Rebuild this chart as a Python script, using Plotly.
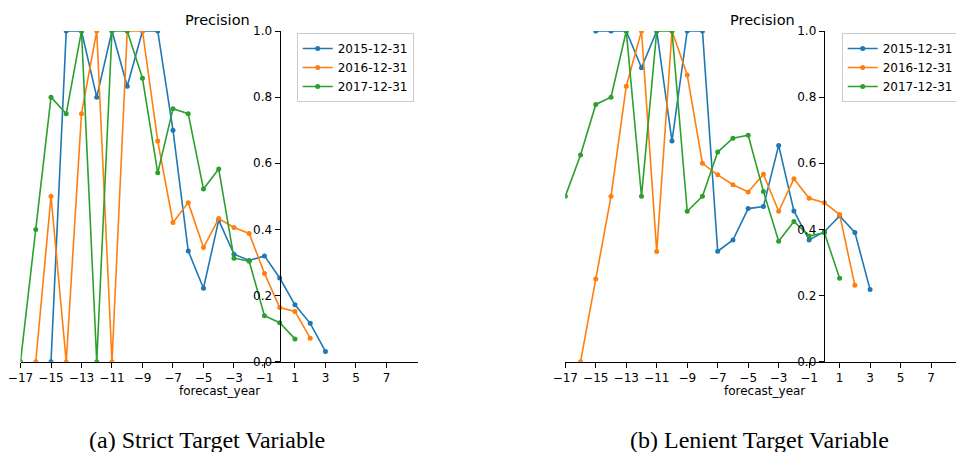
import plotly.graph_objects as go

# ---------------- data ----------------
series_names = ["2015-12-31", "2016-12-31", "2017-12-31"]
series_colors = ["#1f77b4", "#ff7f0e", "#2ca02c"]

# (a) Strict target variable
strict_x_2015 = [-15, -14, -13, -12, -11, -10, -9, -8, -7, -6, -5, -4, -3, -2, -1, 0, 1, 2, 3]
strict_y_2015 = [0.0, 1.0, 1.0, 0.80, 1.0, 0.833, 1.0, 1.0, 0.70, 0.335, 0.222, 0.428, 0.325, 0.306, 0.32, 0.253, 0.172, 0.116, 0.031]

strict_x_2016 = [-16, -15, -14, -13, -12, -11, -10, -9, -8, -7, -6, -5, -4, -3, -2, -1, 0, 1, 2]
strict_y_2016 = [0.0, 0.50, 0.0, 0.75, 1.0, 0.0, 1.0, 1.0, 0.667, 0.421, 0.481, 0.345, 0.433, 0.406, 0.388, 0.267, 0.164, 0.152, 0.071]

strict_x_2017 = [-17, -16, -15, -14, -13, -12, -11, -10, -9, -8, -7, -6, -5, -4, -3, -2, -1, 0, 1]
strict_y_2017 = [0.0, 0.40, 0.80, 0.75, 1.0, 0.0, 1.0, 1.0, 0.857, 0.571, 0.765, 0.75, 0.522, 0.583, 0.313, 0.304, 0.139, 0.118, 0.069]

# (b) Lenient target variable
lenient_x_2015 = [-15, -14, -13, -12, -11, -10, -9, -8, -7, -6, -5, -4, -3, -2, -1, 0, 1, 2, 3]
lenient_y_2015 = [1.0, 1.0, 1.0, 0.889, 1.0, 0.667, 1.0, 1.0, 0.334, 0.368, 0.463, 0.469, 0.654, 0.456, 0.368, 0.393, 0.441, 0.391, 0.218]

lenient_x_2016 = [-16, -15, -14, -13, -12, -11, -10, -9, -8, -7, -6, -5, -4, -3, -2, -1, 0, 1, 2]
lenient_y_2016 = [0.0, 0.25, 0.50, 0.833, 1.0, 0.333, 1.0, 0.867, 0.60, 0.565, 0.535, 0.513, 0.567, 0.455, 0.553, 0.494, 0.481, 0.445, 0.231]

lenient_x_2017 = [-17, -16, -15, -14, -13, -12, -11, -10, -9, -8, -7, -6, -5, -4, -3, -2, -1, 0, 1]
lenient_y_2017 = [0.50, 0.625, 0.778, 0.80, 1.0, 0.50, 1.0, 1.0, 0.455, 0.50, 0.634, 0.676, 0.685, 0.515, 0.364, 0.424, 0.38, 0.39, 0.252]

x_tick_vals = [-17, -15, -13, -11, -9, -7, -5, -3, -1, 1, 3, 5, 7]
x_tick_text = ["\u221217", "\u221215", "\u221213", "\u221211", "\u22129", "\u22127", "\u22125",
               "\u22123", "\u22121", "1", "3", "5", "7"]
y_tick_vals = [0.0, 0.2, 0.4, 0.6, 0.8, 1.0]
y_tick_text = ["0.0", "0.2", "0.4", "0.6", "0.8", "1.0"]

panel_title = "Precision"
x_label = "forecast_year"
captions = ["(a) Strict Target Variable", "(b) Lenient Target Variable"]

# ---------------- figure ----------------
W, H = 956, 452
FONT = "DejaVu Sans"

fig = go.Figure()

left_sets = [(strict_x_2015, strict_y_2015), (strict_x_2016, strict_y_2016), (strict_x_2017, strict_y_2017)]
right_sets = [(lenient_x_2015, lenient_y_2015), (lenient_x_2016, lenient_y_2016), (lenient_x_2017, lenient_y_2017)]

for (xs, ys), name, col in zip(left_sets, series_names, series_colors):
    fig.add_trace(go.Scatter(x=xs, y=ys, name=name, mode="lines+markers",
                             line=dict(color=col, width=1.6),
                             marker=dict(color=col, size=5),
                             xaxis="x", yaxis="y", legend="legend"))
for (xs, ys), name, col in zip(right_sets, series_names, series_colors):
    fig.add_trace(go.Scatter(x=xs, y=ys, name=name, mode="lines+markers",
                             line=dict(color=col, width=1.6),
                             marker=dict(color=col, size=5),
                             xaxis="x2", yaxis="y2", legend="legend2"))

def px_x(v):
    return v / W

def px_y(v):
    return (H - v) / H

y_dom = [px_y(361.7), px_y(31.0)]
left_dom = [px_x(20.5), px_x(417.7)]
right_dom = [px_x(565.3), 1.0]

axis_common = dict(showline=True, linecolor="black", linewidth=1, ticks="outside",
                   ticklen=5, tickwidth=1, tickcolor="black", showgrid=False,
                   zeroline=False, automargin=False,
                   tickfont=dict(family=FONT, size=12, color="black"))

fig.update_layout(
    width=W, height=H,
    margin=dict(l=0, r=0, t=0, b=0, autoexpand=False),
    paper_bgcolor="white", plot_bgcolor="white",
    font=dict(family=FONT, size=12, color="black"),
    xaxis=dict(domain=left_dom, range=[-17, 9.05], anchor="y",
               tickmode="array", tickvals=x_tick_vals, ticktext=x_tick_text, **axis_common),
    yaxis=dict(domain=y_dom, range=[0, 1], anchor="free", position=px_x(279.6),
               tickmode="array", tickvals=y_tick_vals, ticktext=y_tick_text, **axis_common),
    xaxis2=dict(domain=right_dom, range=[-17, -17 + (W - 565.3) / 15.24], anchor="y2",
                tickmode="array", tickvals=x_tick_vals, ticktext=x_tick_text, **axis_common),
    yaxis2=dict(domain=y_dom, range=[0, 1], anchor="free", position=px_x(823.7),
                tickmode="array", tickvals=y_tick_vals, ticktext=y_tick_text, **axis_common),
    legend=dict(x=px_x(296.7), y=px_y(33), xanchor="left", yanchor="top",
                bgcolor="white", bordercolor="#cccccc", borderwidth=1,
                font=dict(family=FONT, size=12, color="black")),
    legend2=dict(x=px_x(841.7), y=px_y(33), xanchor="left", yanchor="top",
                 bgcolor="white", bordercolor="#cccccc", borderwidth=1,
                 font=dict(family=FONT, size=12, color="black")),
    showlegend=True,
)

annotations = [
    dict(text=panel_title, x=px_x(217.5), y=px_y(20), xref="paper", yref="paper",
         xanchor="center", yanchor="middle", showarrow=False,
         font=dict(family=FONT, size=14.5, color="black")),
    dict(text=panel_title, x=px_x(762), y=px_y(20), xref="paper", yref="paper",
         xanchor="center", yanchor="middle", showarrow=False,
         font=dict(family=FONT, size=14.5, color="black")),
    dict(text=x_label, x=px_x(219), y=px_y(391), xref="paper", yref="paper",
         xanchor="center", yanchor="middle", showarrow=False,
         font=dict(family=FONT, size=12, color="black")),
    dict(text=x_label, x=px_x(764), y=px_y(391), xref="paper", yref="paper",
         xanchor="center", yanchor="middle", showarrow=False,
         font=dict(family=FONT, size=12, color="black")),
    dict(text=captions[0], x=px_x(207), y=px_y(440), xref="paper", yref="paper",
         xanchor="center", yanchor="middle", showarrow=False,
         font=dict(family="Liberation Serif", size=24, color="black")),
    dict(text=captions[1], x=px_x(759), y=px_y(440), xref="paper", yref="paper",
         xanchor="center", yanchor="middle", showarrow=False,
         font=dict(family="Liberation Serif", size=24, color="black")),
]
fig.update_layout(annotations=annotations)

fig.write_html("out.html")
